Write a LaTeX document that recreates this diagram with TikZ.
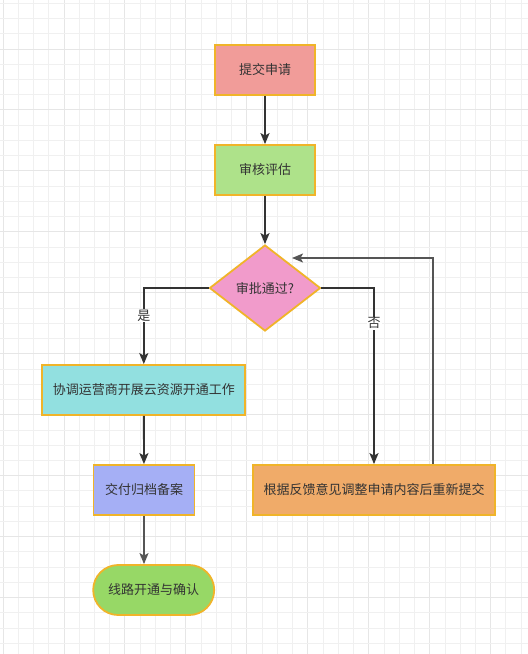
\documentclass[tikz,border=0pt]{standalone}
\usepackage{fontspec}
\newfontfamily\cjk{Noto Sans CJK SC}
\usetikzlibrary{shapes.geometric,arrows.meta}
\definecolor{gridminor}{HTML}{F0F0F0}
\definecolor{gridmajor}{HTML}{E6E6E6}
\definecolor{bord}{HTML}{F0B429}
\definecolor{txt}{HTML}{333333}
\definecolor{cA}{HTML}{F19C99}
\definecolor{cB}{HTML}{AEE28A}
\definecolor{cC}{HTML}{F19BCB}
\definecolor{cD}{HTML}{92E0E0}
\definecolor{cE}{HTML}{A5AFF5}
\definecolor{cF}{HTML}{97D866}
\definecolor{cG}{HTML}{F0AB69}
\definecolor{lineA}{HTML}{333333}
\definecolor{lineB}{HTML}{555555}
\tikzset{
  box/.style={draw=bord, line width=1.8pt, text=txt, font=\cjk\fontsize{13pt}{15pt}\selectfont, inner sep=2pt, minimum height=50pt},
  dia/.style={box, shape=diamond, inner sep=0pt, minimum width=111pt, minimum height=86pt},
  arr/.style={draw=lineA, line width=1.8pt, -{Stealth[length=11pt,width=9pt,inset=2.5pt]}},
  arrthin/.style={draw=lineB, line width=1.5pt, -{Stealth[length=11pt,width=9pt,inset=2.5pt]}},
  lbl/.style={fill=white, text=txt, font=\cjk\fontsize{13pt}{15pt}\selectfont, inner sep=1pt}
}
\begin{document}
\begin{tikzpicture}[x=1pt,y=-1pt]
\useasboundingbox (0,0) rectangle (528,654);
\fill[white] (0,0) rectangle (528,654);
% grid
\foreach \k in {0,...,34} {
  \pgfmathsetmacro{\xx}{3.04+15.24*\k}
  \pgfmathtruncatemacro{\mm}{mod(\k,4)}
  \ifnum\mm=0
    \draw[gridmajor, line width=1pt] (\xx,0) -- (\xx,654);
  \else
    \draw[gridminor, line width=1pt] (\xx,0) -- (\xx,654);
  \fi
}
\foreach \k in {0,...,42} {
  \pgfmathsetmacro{\yy}{3.3+15.24*\k}
  \pgfmathtruncatemacro{\mm}{mod(\k,4)}
  \ifnum\mm=3
    \draw[gridmajor, line width=1pt] (0,\yy) -- (528,\yy);
  \else
    \draw[gridminor, line width=1pt] (0,\yy) -- (528,\yy);
  \fi
}
% nodes
\node[box, fill=cA, minimum width=100pt] (n1) at (265,70) {提交申请};
\node[box, fill=cB, minimum width=100pt] (n2) at (265,170) {审核评估};
\node[dia, fill=cC] (d) at (265,288) {审批通过?};
\node[box, fill=cD, minimum width=203pt] (n3) at (143.8,390) {协调运营商开展云资源开通工作};
\node[box, fill=cE, minimum width=101pt] (n4) at (144,490) {交付归档备案};
\node[box, fill=cF, minimum width=121pt, rounded corners=25pt] (n5) at (153.7,590) {线路开通与确认};
\node[box, fill=cG, minimum width=242pt] (n6) at (374,490) {根据反馈意见调整申请内容后重新提交};
\coordinate (rc) at (433,258);
\coordinate (rtip) at (292,258);
% edges
\draw[arr] (n1) -- (n2);
\draw[arr] (n2) -- (d);
\draw[arr] (d.west) -| (n3.north) node[lbl, pos=0.68] (ly) {是};
\draw[arr] (d.east) -| (n6.north) node[lbl, pos=0.6] (ln) {否};
\draw[arr] (n3) -- (n4);
\draw[arrthin] (n4.south) -- (n4.south |- n5.north);
\draw[arrthin] (n6.north -| rc) |- (rtip);
\end{tikzpicture}
\end{document}
